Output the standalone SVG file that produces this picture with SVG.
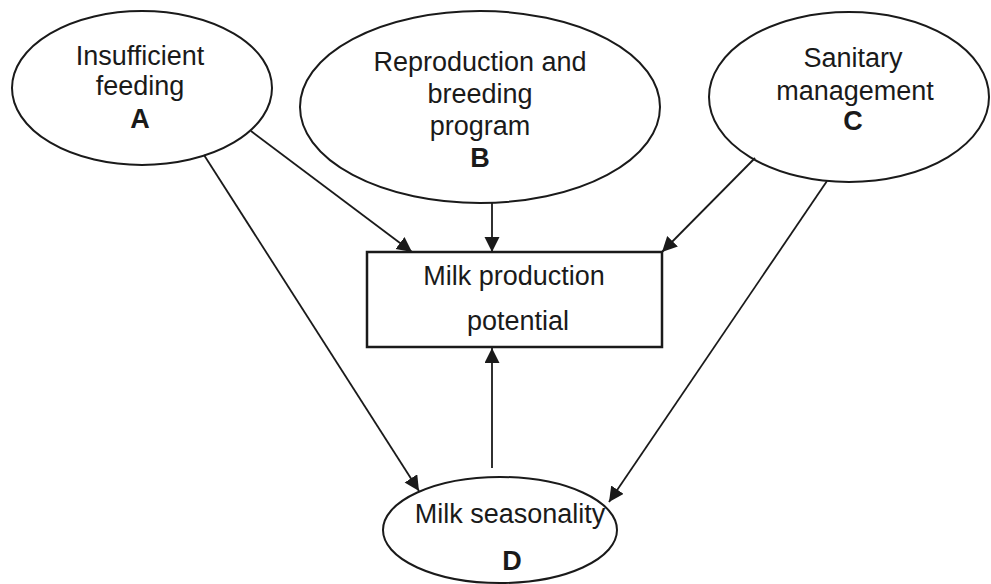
<svg xmlns="http://www.w3.org/2000/svg" width="991" height="584" viewBox="0 0 991 584">
  <style>
    .shape { fill: #ffffff; stroke: #1a1a1a; stroke-width: 2; }
    .box { fill: #ffffff; stroke: #1a1a1a; stroke-width: 2.5; }
    .label { font-family: "Liberation Sans", Arial, sans-serif; font-size: 27px; fill: #1a1a1a; text-anchor: middle; }
    .letter { font-weight: bold; }
    .edge { stroke: #1a1a1a; stroke-width: 1.8; fill: none; marker-end: url(#arrow); }
  </style>
  <defs>
    <marker id="arrow" markerUnits="userSpaceOnUse" markerWidth="16" markerHeight="16" refX="15" refY="7.5" orient="auto">
      <path d="M0,0 L15,7.5 L0,15 z" fill="#1a1a1a"/>
    </marker>
  </defs>
  <rect width="991" height="584" fill="#ffffff"/>

  <g id="node-a">
    <ellipse class="shape" cx="142" cy="88" rx="130" ry="77"/>
    <text class="label" x="140" y="65">Insufficient</text>
    <text class="label" x="140" y="95">feeding</text>
    <text class="label letter" x="140" y="128">A</text>
  </g>

  <g id="node-b">
    <ellipse class="shape" cx="480" cy="107" rx="180" ry="96"/>
    <text class="label" x="480" y="71">Reproduction and</text>
    <text class="label" x="480" y="103">breeding</text>
    <text class="label" x="480" y="135">program</text>
    <text class="label letter" x="480" y="167">B</text>
  </g>

  <g id="node-c">
    <ellipse class="shape" cx="849" cy="97" rx="140" ry="85"/>
    <text class="label" x="853" y="67">Sanitary</text>
    <text class="label" x="855" y="100">management</text>
    <text class="label letter" x="853" y="130">C</text>
  </g>

  <g id="node-potential">
    <rect class="box" x="367" y="252" width="295" height="95"/>
    <text class="label" x="514" y="285">Milk production</text>
    <text class="label" x="518" y="330">potential</text>
  </g>

  <g id="node-d">
    <ellipse class="shape" cx="500" cy="530" rx="117" ry="53"/>
    <text class="label" x="510" y="523">Milk seasonality</text>
    <text class="label letter" x="512" y="570">D</text>
  </g>

  <g id="connectors">
    <line class="edge" x1="251" y1="131" x2="412" y2="252"/>
    <line class="edge" x1="492" y1="203" x2="492" y2="252"/>
    <line class="edge" x1="755" y1="158" x2="662" y2="252"/>
    <line class="edge" x1="204" y1="155" x2="419" y2="491"/>
    <line class="edge" x1="827" y1="181" x2="609" y2="502"/>
    <line class="edge" x1="492" y1="468" x2="492" y2="348"/>
  </g>
</svg>
